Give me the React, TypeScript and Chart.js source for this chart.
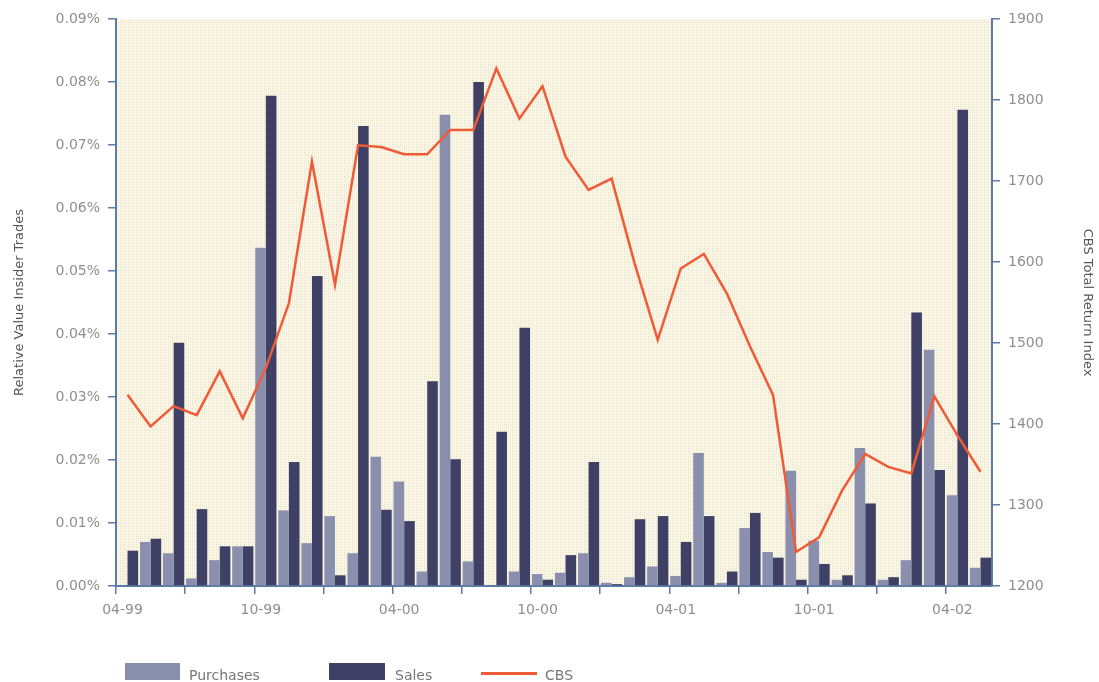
import React, { useEffect, useRef } from 'react';
import { Chart, registerables } from 'chart.js';

Chart.register(...registerables);

const months = [
  '04-99', '05-99', '06-99', '07-99', '08-99', '09-99', '10-99', '11-99', '12-99',
  '01-00', '02-00', '03-00', '04-00', '05-00', '06-00', '07-00', '08-00', '09-00',
  '10-00', '11-00', '12-00', '01-01', '02-01', '03-01', '04-01', '05-01', '06-01',
  '07-01', '08-01', '09-01', '10-01', '11-01', '12-01', '01-02', '02-02', '03-02',
  '04-02', '05-02',
];

// Relative value of insider trades, in percent
const purchases = [
  0, 0.0070, 0.0052, 0.0012, 0.0041, 0.0063, 0.0537, 0.0120, 0.0068, 0.0111,
  0.0052, 0.0205, 0.0166, 0.0023, 0.0748, 0.0039, 0, 0.0023, 0.0019, 0.0021,
  0.0052, 0.0005, 0.0014, 0.0031, 0.0016, 0.0211, 0.0005, 0.0092, 0.0054, 0.0183,
  0.0072, 0.0010, 0.0219, 0.0010, 0.0041, 0.0375, 0.0144, 0.0029,
];

const sales = [
  0.0056, 0.0075, 0.0386, 0.0122, 0.0063, 0.0063, 0.0778, 0.0197, 0.0492, 0.0017,
  0.0730, 0.0121, 0.0103, 0.0325, 0.0201, 0.0800, 0.0245, 0.0410, 0.0010, 0.0049,
  0.0197, 0.0003, 0.0106, 0.0111, 0.0070, 0.0111, 0.0023, 0.0116, 0.0045, 0.0010,
  0.0035, 0.0017, 0.0131, 0.0014, 0.0434, 0.0184, 0.0756, 0.0045,
];

// CBS Total Return Index
const cbs = [
  1436, 1397, 1422, 1411, 1465, 1407, 1469, 1549, 1724, 1572,
  1744, 1742, 1733, 1733, 1763, 1763, 1839, 1777, 1817, 1730,
  1689, 1703, 1598, 1504, 1592, 1610, 1561, 1496, 1436, 1242,
  1260, 1318, 1363, 1347, 1339, 1434, 1386, 1341,
];

const seriesNames = ['Purchases', 'Sales', 'CBS'];

const AXIS = '#5b7ba8';
const TICK = '#8f8f8f';
const FONT = '"DejaVu Sans", sans-serif';
const C_PUR = '#8b8fae';
const C_SAL = '#3e4065';
const C_CBS = '#ef5b36';

const bgPlugin = {
  id: 'plotBg',
  beforeDraw(chart: any) {
    const { ctx, chartArea: a } = chart;
    if (!a) return;
    const p = document.createElement('canvas');
    p.width = 4;
    p.height = 4;
    const c = p.getContext('2d')!;
    c.fillStyle = '#fcf8e6';
    c.fillRect(0, 0, 4, 4);
    c.fillStyle = '#dddbd6';
    c.fillRect(0, 0, 1, 1);
    c.fillRect(2, 2, 1, 1);
    c.fillStyle = '#f8ecc6';
    c.fillRect(2, 0, 1, 1);
    c.fillStyle = '#f5dccc';
    c.fillRect(0, 2, 1, 1);
    ctx.save();
    ctx.fillStyle = ctx.createPattern(p, 'repeat');
    ctx.fillRect(a.left, a.top, a.right - a.left, a.bottom - a.top);
    ctx.restore();
  },
};

export default function App() {
  const ref = useRef<HTMLCanvasElement | null>(null);

  useEffect(() => {
    if (!ref.current) return;
    const chart = new Chart(ref.current, {
      type: 'bar',
      data: {
        labels: months,
        datasets: [
          {
            type: 'line',
            label: seriesNames[2],
            data: cbs,
            yAxisID: 'y1',
            borderColor: C_CBS,
            borderWidth: 2.5,
            pointRadius: 0,
            tension: 0,
            order: 0,
          } as any,
          {
            label: seriesNames[0],
            data: purchases,
            yAxisID: 'y',
            backgroundColor: C_PUR,
            categoryPercentage: 0.92,
            barPercentage: 1,
            order: 1,
          },
          {
            label: seriesNames[1],
            data: sales,
            yAxisID: 'y',
            backgroundColor: C_SAL,
            categoryPercentage: 0.92,
            barPercentage: 1,
            order: 1,
          },
        ],
      },
      options: {
        animation: false,
        responsive: true,
        maintainAspectRatio: false,
        layout: { padding: { top: 19, left: 0, right: 0, bottom: 0 } },
        plugins: { legend: { display: false }, tooltip: { enabled: false } },
        scales: {
          x: {
            offset: true,
            ticks: {
              autoSkip: false,
              maxRotation: 0,
              minRotation: 0,
              callback: (_v: any, i: number) => (i % 6 === 0 ? months[i] : ''),
              labelOffset: -5,
              padding: 8,
              color: TICK,
              font: { family: FONT, size: 14 },
            },
            grid: {
              offset: true,
              drawOnChartArea: false,
              tickLength: 8,
              lineWidth: 1.5,
              color: (ctx: any) => (ctx.index % 3 === 0 ? AXIS : 'rgba(0,0,0,0)'),
            },
            border: { color: AXIS, width: 2 },
            afterFit: (s: any) => {
              s.height = 96;
            },
          },
          y: {
            position: 'left',
            min: 0,
            max: 0.09,
            ticks: {
              stepSize: 0.01,
              callback: (v: any) => Number(v).toFixed(2) + '%',
              color: TICK,
              padding: 8,
              font: { family: FONT, size: 14 },
            },
            grid: { drawOnChartArea: false, color: AXIS, tickLength: 8, lineWidth: 1.5 },
            border: { color: AXIS, width: 2 },
            title: {
              display: true,
              text: 'Relative Value Insider Trades',
              color: '#555',
              font: { family: FONT, size: 13 },
              padding: { top: 12, bottom: 0 },
            },
            afterFit: (s: any) => {
              s.width = 116;
            },
          },
          y1: {
            position: 'right',
            min: 1200,
            max: 1900,
            ticks: {
              stepSize: 100,
              callback: (v: any) => String(v),
              color: TICK,
              padding: 8,
              font: { family: FONT, size: 14 },
            },
            grid: { drawOnChartArea: false, color: AXIS, tickLength: 8, lineWidth: 1.5 },
            border: { color: AXIS, width: 2 },
            title: {
              display: true,
              text: 'CBS Total Return Index',
              color: '#555',
              font: { family: FONT, size: 13 },
              padding: { top: 4, bottom: 0 },
            },
            afterFit: (s: any) => {
              s.width = 107;
            },
          },
        },
      } as any,
      plugins: [bgPlugin],
    });
    return () => chart.destroy();
  }, []);

  const txt: React.CSSProperties = {
    position: 'absolute',
    top: 667,
    fontFamily: FONT,
    fontSize: 14,
    lineHeight: '16px',
    color: '#777',
    whiteSpace: 'nowrap',
  };

  return (
    <div style={{ position: 'fixed', left: 0, top: 0, width: 1099, height: 682, background: '#fff', overflow: 'hidden' }}>
      <canvas ref={ref} />
      <div style={{ position: 'absolute', left: 125, top: 663, width: 55, height: 17, background: C_PUR }} />
      <div style={{ ...txt, left: 189 }}>{seriesNames[0]}</div>
      <div style={{ position: 'absolute', left: 329, top: 663, width: 56, height: 17, background: C_SAL }} />
      <div style={{ ...txt, left: 395 }}>{seriesNames[1]}</div>
      <div style={{ position: 'absolute', left: 481, top: 672, width: 56, height: 3, background: C_CBS }} />
      <div style={{ ...txt, left: 545 }}>{seriesNames[2]}</div>
    </div>
  );
}
